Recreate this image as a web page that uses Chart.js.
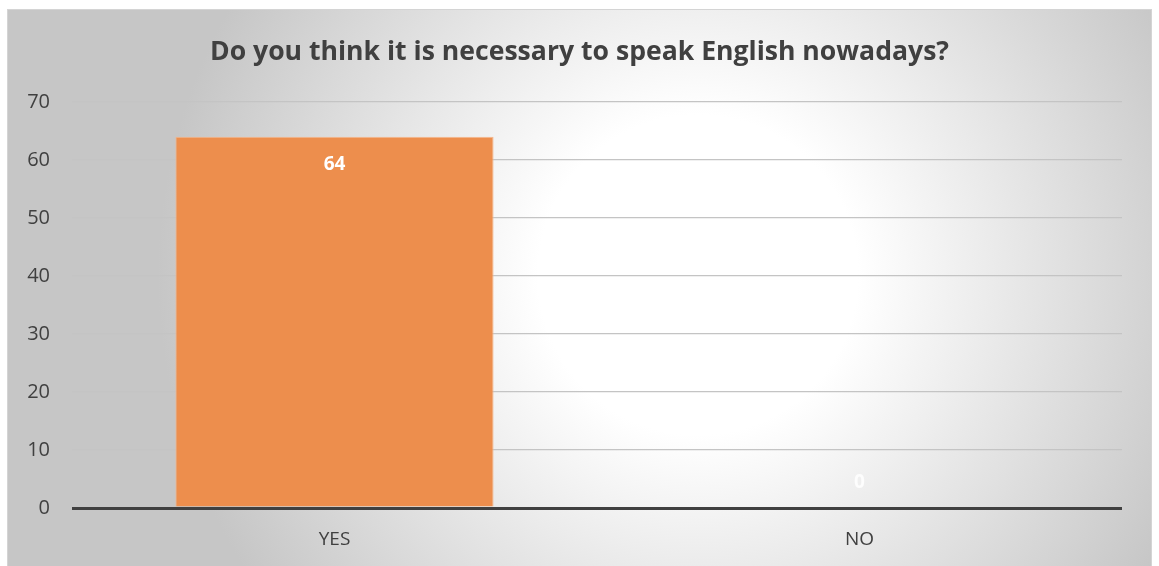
<!DOCTYPE html>
<html>
<head>
<meta charset="utf-8">
<script src="https://cdn.jsdelivr.net/npm/chart.js@4.4.1/dist/chart.umd.min.js"></script>
<style>
  html, body { margin: 0; padding: 0; background: #ffffff; width: 1159px; height: 566px; overflow: hidden; }
  #box {
    position: absolute; left: 7px; top: 9px; width: 1145px; height: 557px;
    border: 1px solid #d4d4d4; border-bottom: none; box-sizing: border-box;
    background: radial-gradient(circle 540px at 690px 265px, #ffffff 0px, #ffffff 160px, #e4e4e4 340px, #c6c6c6 540px);
  }
  #wrap { position: absolute; left: 0; top: 0; width: 1143px; height: 556px; }
</style>
</head>
<body>
<div id="box"><div id="wrap"><canvas id="c"></canvas></div></div>
<script>
const titleText = "Do you think it is necessary to speak English nowadays?";
const categories = ["YES", "NO"];
const values = [64, 0];
const yTicks = [0, 10, 20, 30, 40, 50, 60, 70];

const labelPlugin = {
  id: 'valueLabels',
  afterDatasetsDraw(chart) {
    const ctx = chart.ctx;
    const meta = chart.getDatasetMeta(0);
    const ys = chart.scales.y;
    ctx.save();
    ctx.font = "bold 19px 'Open Sans'";
    ctx.textAlign = 'center';
    ctx.textBaseline = 'middle';
    meta.data.forEach((bar, i) => {
      const v = values[i];
      ctx.fillStyle = v === 0 ? 'rgba(255,255,255,0.85)' : '#ffffff';
      const y = v === 0 ? ys.getPixelForValue(0) - 25 : bar.y + 28;
      ctx.fillText(String(v), bar.x, y);
    });
    ctx.restore();
  }
};

new Chart(document.getElementById('c'), {
  type: 'bar',
  data: {
    labels: categories,
    datasets: [{
      data: values,
      yAxisID: 'y',
      backgroundColor: '#ED8E4D',
      borderColor: '#F5B58A',
      borderWidth: 1,
      borderSkipped: 'bottom',
      barPercentage: 0.606,
      categoryPercentage: 1.0
    }]
  },
  options: {
    responsive: true,
    maintainAspectRatio: false,
    animation: false,
    layout: { padding: { left: 0, right: 0, top: 0, bottom: 8 } },
    plugins: {
      legend: { display: false },
      tooltip: { enabled: false },
      title: {
        display: true,
        text: titleText,
        color: '#404040',
        font: { family: "'Open Sans'", size: 26.6, weight: 'bold' },
        padding: { top: 26.3, bottom: 33.8 }
      }
    },
    scales: {
      x: {
        afterFit: (s) => { s.height = 50; },
        grid: { display: false, drawTicks: false },
        border: { display: false },
        ticks: { color: '#404040', font: { family: "'Open Sans'", size: 19 }, padding: 20 }
      },
      y: {
        position: 'left',
        min: 0, max: 70,
        afterBuildTicks: (s) => { s.ticks = yTicks.map(v => ({ value: v })); },
        afterFit: (s) => { s.width = 64; },
        grid: {
          color: (ctx) => ctx.tick && ctx.tick.value === 0 ? '#404040' : '#c4c4c4',
          lineWidth: (ctx) => ctx.tick && ctx.tick.value === 0 ? 3 : 1.3,
          drawTicks: false
        },
        border: { display: false },
        ticks: { color: '#404040', font: { family: "'Open Sans'", size: 20 }, padding: 22 }
      },
      yRight: {
        type: 'linear',
        position: 'right',
        min: 0, max: 70,
        afterFit: (s) => { s.width = 29; },
        grid: { display: false, drawTicks: false },
        border: { display: false },
        ticks: { display: false }
      }
    }
  },
  plugins: [labelPlugin]
});
</script>
</body>
</html>
